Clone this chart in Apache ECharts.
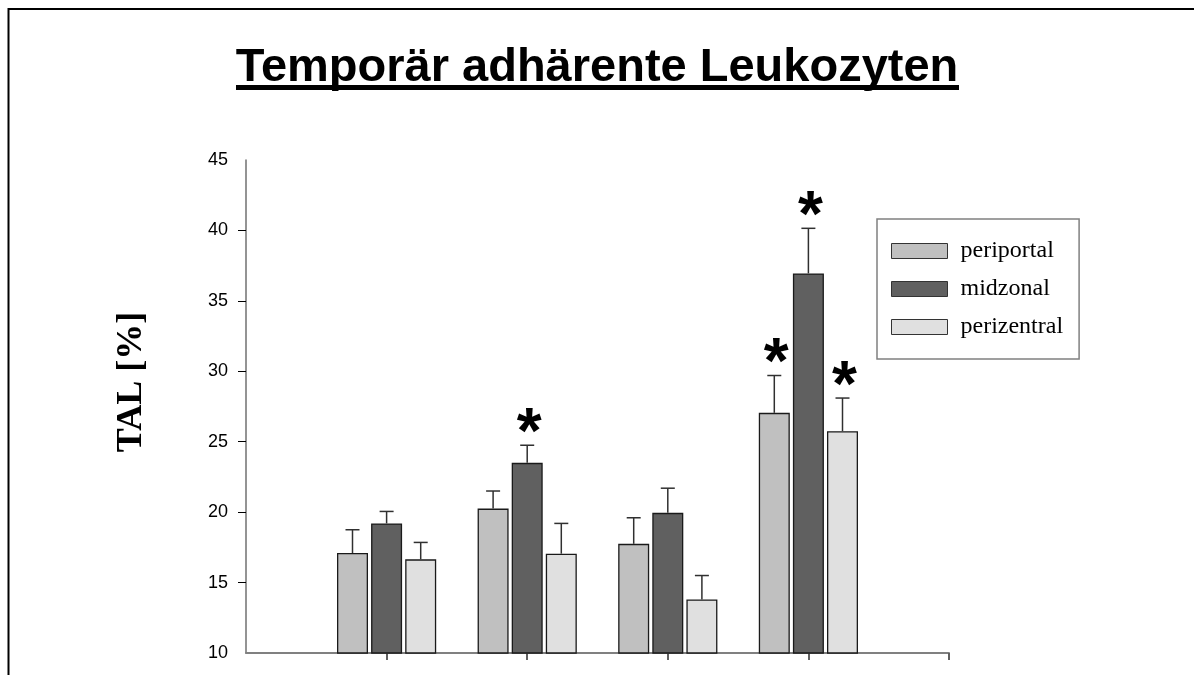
<!DOCTYPE html>
<html>
<head>
<meta charset="utf-8">
<title>Temporär adhärente Leukozyten</title>
<script src="https://cdn.jsdelivr.net/npm/echarts@6/dist/echarts.min.js"></script>
<style>
  html, body { margin: 0; padding: 0; background: #fff; }
  #chart { width: 1194px; height: 675px; }
</style>
</head>
<body>
<div id="chart"></div>
<script>
// group positions on the x axis (no labels visible in the source)
var groups = [1, 2, 3, 4]
var seriesNames = ['periportal', 'midzonal', 'perizentral']
var periportal = [17.1, 20.25, 17.75, 27.05]
var periportalErr = [1.65, 1.25, 1.85, 2.65]
var midzonal = [19.2, 23.5, 19.95, 36.95]
var midzonalErr = [0.85, 1.25, 1.75, 3.2]
var perizentral = [16.65, 17.05, 13.8, 25.75]
var perizentralErr = [1.2, 2.15, 1.7, 2.35]
// significance marks (*)
var periportalSig = [0, 0, 0, 1]
var midzonalSig = [0, 1, 0, 1]
var perizentralSig = [0, 0, 0, 1]
var yTicks = [10, 15, 20, 25, 30, 35, 40, 45]

var colorList = ['#c0c0c0', '#606060', '#e0e0e0']
var BAR_W = 31
var BAR_GAP = 3.1

var chart = echarts.init(document.getElementById('chart'))

function barData (vals) {
  return groups.map(function (g, i) { return [g, vals[i]] })
}
function errData (vals, errs, sigs) {
  return groups.map(function (g, i) { return [g, vals[i], errs[i], sigs[i]] })
}

function errorRenderer (idx) {
  return function (params, api) {
    var x = api.value(0)
    var v = api.value(1)
    var e = api.value(2)
    var s = api.value(3)
    var off = (idx - 1) * (BAR_W + BAR_GAP)
    var p0 = api.coord([x, v])
    var p1 = api.coord([x, v + e])
    var cx = p0[0] + off
    var children = [
      { type: 'line', shape: { x1: cx, y1: p0[1], x2: cx, y2: p1[1] }, style: { stroke: '#303030', lineWidth: 1.5 } },
      { type: 'line', shape: { x1: cx - 7, y1: p1[1], x2: cx + 7, y2: p1[1] }, style: { stroke: '#303030', lineWidth: 1.5 } }
    ]
    if (s) {
      children.push({
        type: 'text',
        x: cx + 2,
        y: p1[1] - 10,
        style: {
          text: '*',
          fill: '#000',
          font: 'bold 64px "Liberation Sans", Arial, sans-serif',
          align: 'center',
          verticalAlign: 'middle'
        }
      })
    }
    return { type: 'group', children: children }
  }
}

var option = {
  animation: false,
  color: colorList,
  graphic: [
    { type: 'rect', shape: { x: 8.5, y: 9, width: 1400, height: 1000 }, style: { fill: 'none', stroke: '#000', lineWidth: 2 } },
    { type: 'rect', shape: { x: 236, y: 85, width: 723, height: 5 }, style: { fill: '#000' } },
    {
      type: 'text', x: 132, y: 382, rotation: Math.PI / 2,
      style: { text: 'TAL [%]', fill: '#000', font: 'bold 36px "Liberation Serif", "Times New Roman", serif', align: 'center', verticalAlign: 'middle' }
    }
  ],
  title: {
    text: 'Temporär adhärente Leukozyten',
    left: 'center',
    top: 40,
    textStyle: {
      fontFamily: '"Liberation Sans", Arial, sans-serif',
      fontWeight: 'bold',
      fontSize: 47,
      color: '#000'
    }
  },
  legend: {
    orient: 'vertical',
    left: 877,
    top: 219,
    padding: [20, 16, 20, 14],
    borderColor: '#808080',
    borderWidth: 1.5,
    itemWidth: 56,
    itemHeight: 15,
    itemGap: 14,
    icon: 'rect',
    itemStyle: { borderColor: '#333', borderWidth: 1 },
    textStyle: {
      fontFamily: '"Liberation Serif", "Times New Roman", serif',
      fontSize: 24,
      lineHeight: 16,
      color: '#000',
      padding: [0, 0, 0, 8]
    },
    data: seriesNames
  },
  grid: { left: 246, right: 245, top: 160, bottom: 22 },
  xAxis: {
    type: 'value',
    min: 0,
    max: 5,
    interval: 1,
    axisLine: { lineStyle: { color: '#808080', width: 2 } },
    axisTick: { show: true, length: 7, customValues: [1, 2, 3, 4, 5], lineStyle: { color: '#606060', width: 2 } },
    axisLabel: { show: false },
    splitLine: { show: false }
  },
  yAxis: {
    type: 'value',
    min: yTicks[0],
    max: yTicks[yTicks.length - 1],
    interval: 5,
    axisLine: { show: true, lineStyle: { color: '#707070', width: 1.5 } },
    axisTick: { show: true, length: 8, customValues: [15, 20, 25, 30, 35, 40], lineStyle: { color: '#000', width: 1 } },
    axisLabel: {
      margin: 18,
      color: '#000',
      fontSize: 18,
      fontFamily: '"Liberation Sans", Arial, sans-serif'
    },
    splitLine: { show: false }
  },
  series: [
    { name: seriesNames[0], type: 'bar', barWidth: BAR_W, barGap: '10%', data: barData(periportal), itemStyle: { borderColor: '#1a1a1a', borderWidth: 1.3 } },
    { name: seriesNames[1], type: 'bar', barWidth: BAR_W, barGap: '10%', data: barData(midzonal), itemStyle: { borderColor: '#1a1a1a', borderWidth: 1.3 } },
    { name: seriesNames[2], type: 'bar', barWidth: BAR_W, barGap: '10%', data: barData(perizentral), itemStyle: { borderColor: '#1a1a1a', borderWidth: 1.3 } },
    { type: 'custom', renderItem: errorRenderer(0), data: errData(periportal, periportalErr, periportalSig), z: 3 },
    { type: 'custom', renderItem: errorRenderer(1), data: errData(midzonal, midzonalErr, midzonalSig), z: 3 },
    { type: 'custom', renderItem: errorRenderer(2), data: errData(perizentral, perizentralErr, perizentralSig), z: 3 }
  ]
}

chart.setOption(option)
</script>
</body>
</html>
